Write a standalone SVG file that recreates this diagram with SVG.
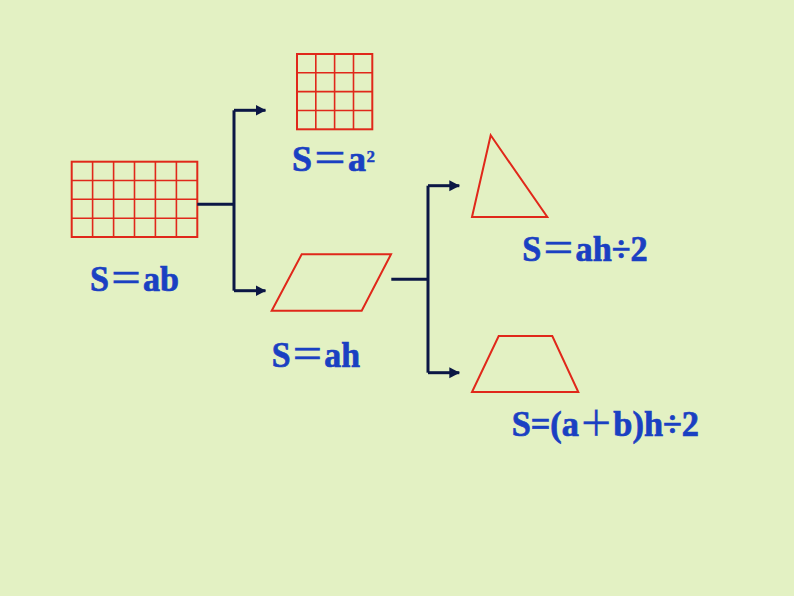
<svg xmlns="http://www.w3.org/2000/svg" width="794" height="596" viewBox="0 0 794 596">
<defs>
<style>
.shape{fill:none;stroke:#e0281a;stroke-width:2}
.grid{fill:none;stroke:#e0281a;stroke-width:1.6}
.conn{fill:none;stroke:#0b1745;stroke-width:3}
.lbl{font-family:"Liberation Serif","Noto Sans CJK SC",serif;font-weight:bold;font-size:35px;fill:#1a40c2;stroke:#1a40c2;stroke-width:0.7}
.thin{font-family:"Noto Sans CJK SC",sans-serif;font-weight:normal;stroke-width:0.3}
.sup{font-family:"Liberation Serif",serif;font-weight:bold;font-size:17px;fill:#1a40c2;stroke:#1a40c2;stroke-width:0.4}
</style>
<marker id="arr" markerWidth="12" markerHeight="12" refX="10" refY="6" orient="auto" markerUnits="userSpaceOnUse">
<path d="M0,0.5 L10.5,6 L0,11.5 Z" fill="#0b1745"/>
</marker>
</defs>
<rect width="794" height="596" fill="#e3f1c3"/>

<g id="rectangle">
<rect class="shape" x="71.7" y="161.7" width="125.6" height="75.3"/>
<path class="grid" d="M92.6,161.7V237M113.6,161.7V237M134.5,161.7V237M155.4,161.7V237M176.4,161.7V237M71.7,180.5H197.3M71.7,199.3H197.3M71.7,218.2H197.3"/>
<text class="lbl" x="90" y="291" textLength="89" lengthAdjust="spacingAndGlyphs">S<tspan class="thin">＝</tspan>ab</text>
</g>

<g id="square">
<rect class="shape" x="297" y="54" width="75.3" height="75.3"/>
<path class="grid" d="M315.8,54V129.3M334.6,54V129.3M353.5,54V129.3M297,72.8H372.3M297,91.6H372.3M297,110.5H372.3"/>
<text class="lbl" x="292" y="171" textLength="74" lengthAdjust="spacingAndGlyphs">S<tspan class="thin">＝</tspan>a</text>
<text class="sup" x="366.5" y="162">2</text>
</g>

<g id="parallelogram">
<polygon class="shape" points="301.7,254.3 391,254.3 361.7,310.7 271.7,310.7"/>
<text class="lbl" x="271.7" y="367.3" textLength="88.3" lengthAdjust="spacingAndGlyphs">S<tspan class="thin">＝</tspan>ah</text>
</g>

<g id="triangle">
<polygon class="shape" points="490.7,135.3 547.3,217 472,217"/>
<text class="lbl" x="522.3" y="261" textLength="125.4" lengthAdjust="spacingAndGlyphs">S<tspan class="thin">＝</tspan>ah÷2</text>
</g>

<g id="trapezoid">
<polygon class="shape" points="498.7,336 552.3,336 578.3,392 472,392"/>
<text class="lbl" x="511.7" y="436" textLength="187.3" lengthAdjust="spacingAndGlyphs">S=(a<tspan class="thin">＋</tspan>b)h÷2</text>
</g>

<g id="connectors">
<path class="conn" d="M197.3,204.3H234"/>
<path class="conn" d="M234,110.3V290.7"/>
<path class="conn" d="M234,110.3H265.5" marker-end="url(#arr)"/>
<path class="conn" d="M234,290.7H265.5" marker-end="url(#arr)"/>
<path class="conn" d="M391.3,279.3H428"/>
<path class="conn" d="M428,185.7V372.7"/>
<path class="conn" d="M428,185.7H459.3" marker-end="url(#arr)"/>
<path class="conn" d="M428,372.7H459.3" marker-end="url(#arr)"/>
</g>
</svg>
